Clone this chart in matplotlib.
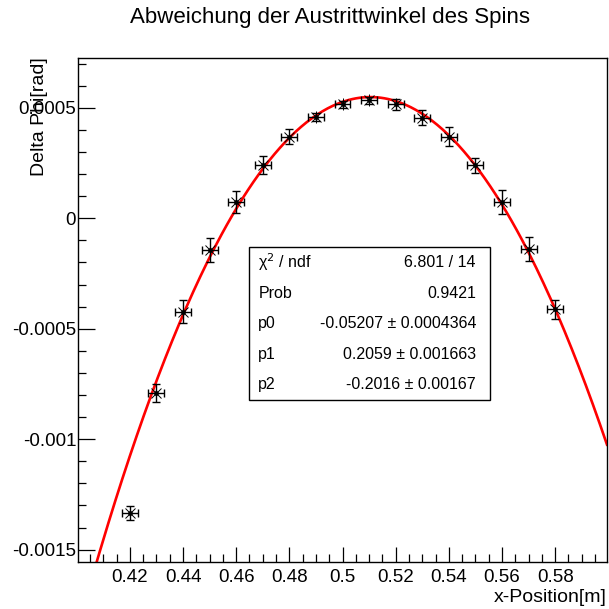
import numpy as np
import matplotlib
matplotlib.use("Agg")
import matplotlib.pyplot as plt
from matplotlib.ticker import MultipleLocator, FixedLocator, FixedFormatter

plt.rcParams["font.family"] = ["Liberation Sans", "DejaVu Sans"]

# measured points (x in m, deviation in rad)
x_pos = [0.42, 0.43, 0.44, 0.45, 0.46, 0.47, 0.48, 0.49, 0.50,
         0.51, 0.52, 0.53, 0.54, 0.55, 0.56, 0.57, 0.58]
delta_phi = [-0.001333, -0.000793, -0.000423, -0.000144, 0.0000729, 0.000243,
             0.000369, 0.000459, 0.000516, 0.000533, 0.000515, 0.000455,
             0.000369, 0.000240, 0.0000729, -0.000140, -0.000413]
y_err = [3.2e-5, 4.1e-5, 5.3e-5, 5.4e-5, 4.9e-5, 4.1e-5, 3.3e-5, 1.9e-5, 1.6e-5,
         1.8e-5, 2.3e-5, 3.5e-5, 4.3e-5, 3.4e-5, 5.3e-5, 5.3e-5, 4.3e-5]
x_err = [0.003] * len(x_pos)

y_ticks = [-0.0015, -0.001, -0.0005, 0.0, 0.0005]
y_tick_labels = ["-0.0015", "-0.001", "-0.0005", "0", "0.0005"]
x_ticks = [0.42, 0.44, 0.46, 0.48, 0.50, 0.52, 0.54, 0.56, 0.58]
x_tick_labels = ["0.42", "0.44", "0.46", "0.48", "0.5", "0.52", "0.54", "0.56", "0.58"]

stat_names = ["\u03c7$^{2}$ / ndf", "Prob", "p0", "p1", "p2"]
stat_values = ["6.801 / 14", "0.9421", "-0.05207 \u00b1 0.0004364",
               "0.2059 \u00b1 0.001663", "-0.2016 \u00b1 0.00167"]

xlim = (0.4006, 0.5995)
ylim = (-0.001556, 0.000724)

W = 609.0
fig = plt.figure(figsize=(6.09, 6.09), dpi=100)
ax = fig.add_axes([78.3 / W, 1 - 562.0 / W, (607.0 - 78.3) / W, (562.0 - 58.3) / W])

# second order polynomial fit (the 0.42 outlier barely pulls the original fit)
coef = np.polyfit(x_pos[1:], delta_phi[1:], 2)
xf = np.linspace(xlim[0], xlim[1], 300)
ax.plot(xf, np.polyval(coef, xf), color="#ff0000", lw=1.9, zorder=2)

ax.errorbar(x_pos, delta_phi, xerr=x_err, yerr=y_err, fmt="none", ecolor="black",
            elinewidth=1.0, capsize=3, capthick=1.0, zorder=3)
ax.plot(x_pos, delta_phi, ls="none", marker="+", ms=9, mew=0.7, color="black", zorder=4)
ax.plot(x_pos, delta_phi, ls="none", marker="x", ms=6.5, mew=0.7, color="black", zorder=4)
ax.plot(x_pos, delta_phi, ls="none", marker="o", ms=2.5, color="black", zorder=5)

ax.set_xlim(*xlim)
ax.set_ylim(*ylim)
ax.xaxis.set_major_locator(FixedLocator(x_ticks))
ax.xaxis.set_major_formatter(FixedFormatter(x_tick_labels))
ax.xaxis.set_minor_locator(MultipleLocator(0.005))
ax.yaxis.set_major_locator(FixedLocator(y_ticks))
ax.yaxis.set_major_formatter(FixedFormatter(y_tick_labels))
ax.yaxis.set_minor_locator(MultipleLocator(0.0001))
ax.tick_params(which="both", direction="in", labelsize=13.5, width=0.9, colors="black")
ax.tick_params(axis="y", which="major", length=12, pad=1.5)
ax.tick_params(axis="y", which="minor", length=6)
ax.tick_params(axis="x", which="major", length=11, pad=5)
ax.tick_params(axis="x", which="minor", length=6)
for s in ax.spines.values():
    s.set_linewidth(1.0)

fig.text(330 / W, 1 - 18 / W, "Abweichung der Austrittwinkel des Spins",
         ha="center", va="center", fontsize=16)
fig.text(607 / W, 1 - 598 / W, "x-Position[m]", ha="right", va="center", fontsize=14)
fig.text(39 / W, 1 - 57 / W, "Delta Phi[rad]", ha="center", va="top", rotation=90, fontsize=14)

# stats box
bx0, bx1, by0, by1 = 249.3, 490.0, 247.3, 400.0
box = plt.Rectangle((bx0 / W, 1 - by1 / W), (bx1 - bx0) / W, (by1 - by0) / W,
                    transform=fig.transFigure, facecolor="white", edgecolor="black",
                    lw=1.0, zorder=10)
fig.patches.append(box)
row_h = (by1 - by0) / len(stat_names)
for i, (name, val) in enumerate(zip(stat_names, stat_values)):
    yc = by0 + row_h * (i + 0.5)
    fig.text(258.3 / W, 1 - yc / W, name, ha="left", va="center", fontsize=11.5, zorder=11)
    fig.text(476.0 / W, 1 - yc / W, val, ha="right", va="center", fontsize=11.5, zorder=11)

fig.savefig("out.png", dpi=100)
